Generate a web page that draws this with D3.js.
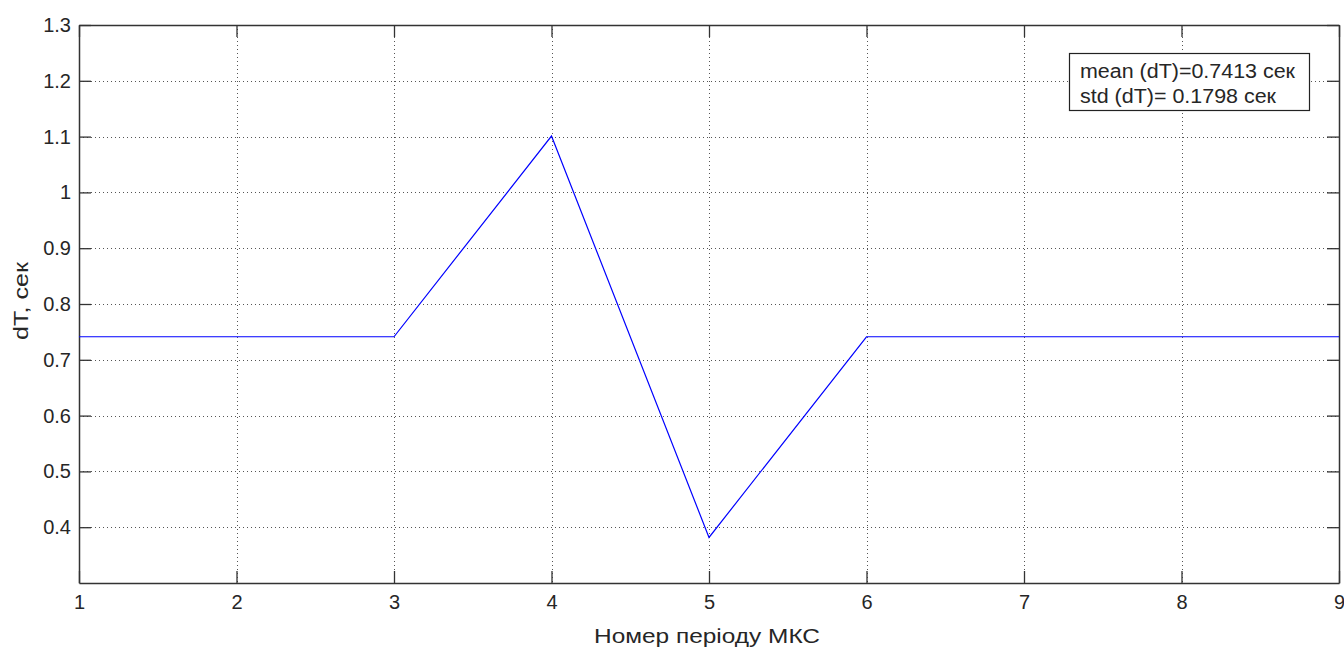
<!DOCTYPE html>
<html>
<head>
<meta charset="utf-8">
<script src="https://cdn.jsdelivr.net/npm/d3@7"></script>
<style>
  body { margin: 0; background: #fff; }
  svg text { font-family: "Liberation Sans", Arial, sans-serif; }
</style>
</head>
<body>
<svg id="chart" width="1344" height="650"></svg>
<script>
// Period numbers and the measured dT for each period
const periods = [1, 2, 3, 4, 5, 6, 7, 8, 9];
const dT = [0.7413, 0.7413, 0.7413, 1.101, 0.3816, 0.7413, 0.7413, 0.7413, 0.7413];
const xTicks = [1, 2, 3, 4, 5, 6, 7, 8, 9];
const yTicks = [0.4, 0.5, 0.6, 0.7, 0.8, 0.9, 1.0, 1.1, 1.2, 1.3];
const legendLines = ["mean (dT)=0.7413 сек", "std (dT)= 0.1798 сек"];
const xTitle = "Номер періоду МКС";
const yTitle = "dT, сек";

const svg = d3.select("#chart");
const L = 79, R = 1339, T = 25, B = 583;
const x = d3.scaleLinear().domain([1, 9]).range([L, R]);
const y = d3.scaleLinear().domain([0.3, 1.3]).range([B, T]);

const axisColor = "#333";
const textColor = "#262626";
const fontSize = 20;
const tickLen = 12;

// Dotted grid
const grid = svg.append("g");
grid.selectAll(".gx").data(xTicks.filter(d => d > 1 && d < 9)).enter().append("line")
  .attr("x1", d => Math.round(x(d)) + 0.5).attr("x2", d => Math.round(x(d)) + 0.5)
  .attr("y1", T).attr("y2", B)
  .attr("stroke", "#555").attr("stroke-width", 1).attr("stroke-dasharray", "1,3");
grid.selectAll(".gy").data(yTicks.filter(d => d < 1.3)).enter().append("line")
  .attr("y1", d => Math.round(y(d)) + 0.5).attr("y2", d => Math.round(y(d)) + 0.5)
  .attr("x1", L).attr("x2", R)
  .attr("stroke", "#555").attr("stroke-width", 1).attr("stroke-dasharray", "1,3");

// Axes (ticks pointing inward, mirrored on the opposite sides)
const fmtY = d => String(+d.toFixed(1));
const axBottom = svg.append("g").attr("transform", `translate(0,${B})`)
  .call(d3.axisBottom(x).tickValues(xTicks).tickSizeInner(-tickLen).tickSizeOuter(0).tickPadding(12).tickFormat(d3.format("d")));
const axLeft = svg.append("g").attr("transform", `translate(${L},0)`)
  .call(d3.axisLeft(y).tickValues(yTicks).tickSizeInner(-tickLen).tickSizeOuter(0).tickPadding(8).tickFormat(fmtY));
const axTop = svg.append("g").attr("transform", `translate(0,${T})`)
  .call(d3.axisTop(x).tickValues(xTicks).tickSizeInner(-tickLen).tickSizeOuter(0).tickFormat(""));
const axRight = svg.append("g").attr("transform", `translate(${R},0)`)
  .call(d3.axisRight(y).tickValues(yTicks).tickSizeInner(-tickLen).tickSizeOuter(0).tickFormat(""));

[axBottom, axLeft, axTop, axRight].forEach(g => {
  g.attr("font-size", fontSize).attr("font-family", null);
  g.select(".domain").attr("stroke", axisColor).attr("stroke-width", 1.5);
  g.selectAll(".tick line").attr("stroke", axisColor).attr("stroke-width", 1.3);
  g.selectAll("text").attr("fill", textColor);
});

// Data line
svg.append("path")
  .datum(periods.map((p, i) => [p, dT[i]]))
  .attr("fill", "none").attr("stroke", "#0000ff").attr("stroke-width", 1.2)
  .attr("d", d3.line().x(d => x(d[0])).y(d => y(d[1])));

// Axis titles
svg.append("text").attr("x", 707).attr("y", 643)
  .attr("text-anchor", "middle").attr("font-size", fontSize).attr("fill", textColor)
  .attr("textLength", 226).attr("lengthAdjust", "spacingAndGlyphs").text(xTitle);
svg.append("text").attr("transform", `translate(28,301) rotate(-90)`)
  .attr("text-anchor", "middle").attr("font-size", fontSize).attr("fill", textColor)
  .attr("textLength", 78).attr("lengthAdjust", "spacingAndGlyphs").text(yTitle);

// Legend box
const lg = svg.append("g");
lg.append("rect").attr("x", 1069.5).attr("y", 53.5).attr("width", 240).attr("height", 57)
  .attr("fill", "#fff").attr("stroke", "#222").attr("stroke-width", 1.2);
const legendWidths = [215, 196];
lg.selectAll("text").data(legendLines).enter().append("text")
  .attr("x", 1080).attr("y", (d, i) => 78 + i * 25)
  .attr("font-size", fontSize).attr("fill", textColor)
  .attr("textLength", (d, i) => legendWidths[i]).attr("lengthAdjust", "spacingAndGlyphs")
  .text(d => d);
</script>
</body>
</html>
